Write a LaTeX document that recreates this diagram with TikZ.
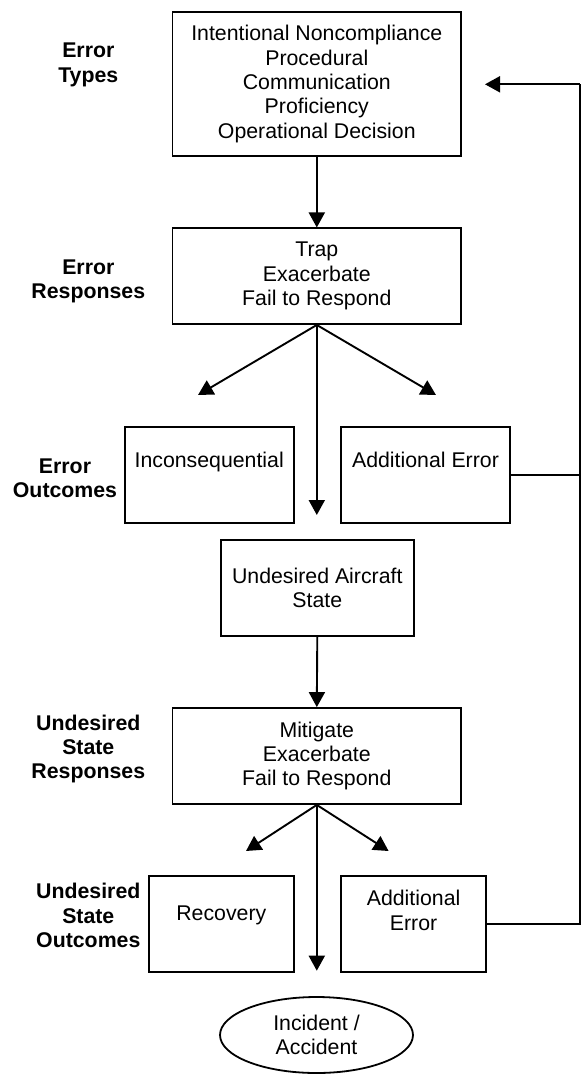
\documentclass[tikz,border=0pt]{standalone}
\usepackage{fontspec}
\setmainfont{Liberation Sans}
\usetikzlibrary{arrows.meta,shapes.geometric}
\begin{document}
\begin{tikzpicture}[x=1pt,y=-1pt,
  every node/.style={font=\fontsize{21.3}{24.4}\selectfont, align=center, inner sep=0pt},
  box/.style={draw, line width=1.8pt, rectangle},
  lab/.style={font=\fontsize{21.3}{24.4}\selectfont\bfseries},
  conn/.style={line width=1.9pt},
  arr/.style={conn, -{Triangle[length=15pt,width=16pt]}}
]
\useasboundingbox (0,0) rectangle (583,1074);

% boxes
\node[box, minimum width=288.5pt, minimum height=144pt] (b1) at (316.8,84)
  {Intentional Noncompliance\\Procedural\\Communication\\Proficiency\\Operational Decision};
\node[box, minimum width=288.5pt, minimum height=95.7pt] (b2) at (316.8,276.2)
  {Trap\\Exacerbate\\Fail to Respond};
\node[box, minimum width=168.8pt, minimum height=96pt] (inc) at (209.2,475.3) {};
\node (inct) at (209.2,462) {Inconsequential};
\node[box, minimum width=168.4pt, minimum height=96pt] (ae1) at (425.5,475.3) {};
\node (ae1t) at (425.5,460) {Additional Error};
\node[box, minimum width=192.6pt, minimum height=95.7pt] (uas) at (317.3,587.9)
  {Undesired Aircraft\\State};
\node[box, minimum width=288.5pt, minimum height=96pt] (b4) at (316.8,756)
  {Mitigate\\Exacerbate\\Fail to Respond};
\node[box, minimum width=144.6pt, minimum height=96.3pt] (rec) at (221.3,924.2) {};
\node (rect) at (221.3,915) {Recovery};
\node[box, minimum width=144.5pt, minimum height=96.3pt] (ae2) at (413.6,924.2) {};
\node (ae2t) at (413.6,910.3) {Additional\\Error};
\node[draw, ellipse, line width=1.8pt, minimum width=193pt, minimum height=76pt] (ell) at (316.5,1035)
  {Incident /\\Accident};

% row labels
\node[lab] (l1) at (88.3,65) {Error\\Types};
\node[lab] (l2) at (88.3,281.5) {Error\\Responses};
\node[lab] (l3) at (65,478.5) {Error\\Outcomes};
\node[lab] (l4) at (88.3,749) {Undesired\\State\\Responses};
\node[lab] (l5) at (88.3,915.5) {Undesired\\State\\Outcomes};

% free ends
\coordinate (t1l) at (198,395);
\coordinate (t1r) at (436,395);
\coordinate (t1c) at (316.8,515);
\coordinate (t2l) at (246,851);
\coordinate (t2r) at (388.6,851);
\coordinate (t2c) at (316.8,970.7);
\coordinate (fb) at (580,84.3);
\coordinate (fbtip) at (485,84.3);

% connectors
\draw[arr] (b1.south) -- (b2.north);
\draw[arr] (b2.south) -- (t1l);
\draw[arr] (b2.south) -- (t1r);
\draw[arr] (b2.south) -- (t1c);
\draw[arr] (uas.south) -- (b4.north);
\draw[arr] (b4.south) -- (t2l);
\draw[arr] (b4.south) -- (t2r);
\draw[arr] (b4.south) -- (t2c);
\draw[conn] (ae1.east) -- (ae1.east -| fb);
\draw[conn] (ae2.east) -| (fb);
\draw[arr] (fb) -- (fbtip);
\end{tikzpicture}
\end{document}
